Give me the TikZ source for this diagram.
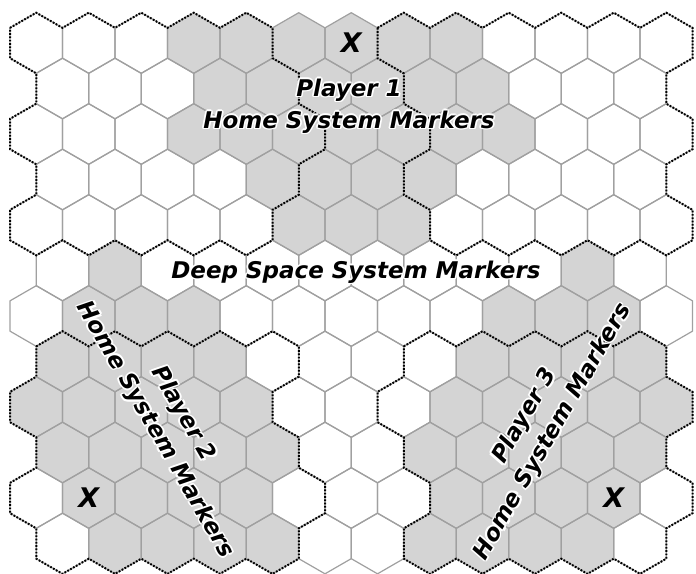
\documentclass[tikz,border=0pt]{standalone}
\usepackage{fontspec}
\setmainfont{DejaVu Sans}
\definecolor{hexgray}{RGB}{212,212,212}
\definecolor{edgegray}{RGB}{160,160,160}
\tikzset{
  hexedge/.style={draw=edgegray,line width=1.2pt,line join=round},
  hexfill/.style={fill=hexgray},
  dotb/.style={draw=black,line width=2pt,dash pattern=on 1.7pt off 1.6pt},
  lbl/.style={font=\fontsize{23}{32}\selectfont\bfseries\itshape,align=center,inner sep=0pt},
  xlbl/.style={font=\fontsize{27}{27}\selectfont\bfseries\itshape,inner sep=0pt}
}
\newcommand\halotext[4]{% name, position, options, text
  \foreach \dx/\dy [count=\n] in {-1.7/0,1.7/0,0/-1.7,0/1.7,-1.2/-1.2,1.2/-1.2,-1.2/1.2,1.2/1.2}{
    \node[lbl,#3,text=white] (#1h\n) at ([shift={(\dx,\dy)}]#2) {#4};
  }
  \node[lbl,#3] (#1) at (#2) {#4};
}
\begin{document}
\begin{tikzpicture}[x=1pt,y=-1pt]
\useasboundingbox (0,0) rectangle (696,573);
\fill[white] (0,0) rectangle (696,573);
\clip (0,0) rectangle (696,573);
% vertex lattice
\foreach \i in {0,...,26}{
  \foreach \k in {0,...,25}{
    \pgfmathsetmacro\xx{10+26.25*\i}
    \pgfmathsetmacro\yy{12.7+45.5*floor(\k/2)+15.15*mod(\k,2)}
    \coordinate (v\i-\k) at (\xx,\yy);
  }
}
% gray hexes
\foreach \r/\a/\b in {1/4/9,2/4/9,3/4/10,4/5/8,5/6/8,6/2/2,6/11/11,7/2/4,7/10/12,8/1/4,8/9/12,9/1/5,9/9/13,10/1/5,10/8/12,11/2/5,11/9/12,12/2/5,12/8/11}{
  \pgfmathtruncatemacro\isodd{mod(\r,2)}
  \pgfmathsetmacro\xo{\isodd==1 ? 36.25 : 62.5}
  \pgfmathsetmacro\cy{43+45.5*(\r-1)}
  \foreach \c in {\a,...,\b}{
    \pgfmathsetmacro\cx{\xo+52.5*(\c-1)}
    \fill[hexfill] (\cx,\cy) +(0,-30.31) -- +(26.25,-15.155) -- +(26.25,15.155) -- +(0,30.31) -- +(-26.25,15.155) -- +(-26.25,-15.155) -- cycle;
  }
}
% all hex outlines
\foreach \r in {1,...,12}{
  \pgfmathtruncatemacro\isodd{mod(\r,2)}
  \pgfmathtruncatemacro\nc{\isodd==1 ? 13 : 12}
  \pgfmathsetmacro\xo{\isodd==1 ? 36.25 : 62.5}
  \pgfmathsetmacro\cy{43+45.5*(\r-1)}
  \foreach \c in {1,...,\nc}{
    \pgfmathsetmacro\cx{\xo+52.5*(\c-1)}
    \draw[hexedge] (\cx,\cy) +(0,-30.31) -- +(26.25,-15.155) -- +(26.25,15.155) -- +(0,30.31) -- +(-26.25,15.155) -- +(-26.25,-15.155) -- cycle;
  }
}
% dotted outlines
\draw[dotb] (v0-1) \foreach \p in {1-0,2-1,3-0,4-1,5-0,6-1,7-0,8-1,9-0,10-1,10-2,11-3,11-4,12-5,12-6,11-7,11-8,10-9,10-10,9-11,8-10,7-11,6-10,5-11,4-10,3-11,2-10,1-11,0-10,0-9,1-8,1-7,0-6,0-5,1-4,1-3,0-2}{ -- (v\p)} -- cycle;
\draw[dotb] (v14-1) \foreach \p in {15-0,16-1,17-0,18-1,19-0,20-1,21-0,22-1,23-0,24-1,25-0,26-1,26-2,25-3,25-4,26-5,26-6,25-7,25-8,26-9,26-10,25-11,24-10,23-11,22-10,21-11,20-10,19-11,18-10,17-11,16-10,16-9,15-8,15-7,16-6,16-5,15-4,15-3,14-2}{ -- (v\p)} -- cycle;
\draw[dotb] (v1-15) \foreach \p in {2-14,3-15,4-14,5-15,6-14,7-15,8-14,9-15,10-14,11-15,11-16,10-17,10-18,11-19,11-20,12-21,12-22,11-23,11-24,10-25,9-24,8-25,7-24,6-25,5-24,4-25,3-24,2-25,1-24,1-23,0-22,0-21,1-20,1-19,0-18,0-17,1-16}{ -- (v\p)} -- cycle;
\draw[dotb] (v15-15) \foreach \p in {16-14,17-15,18-14,19-15,20-14,21-15,22-14,23-15,24-14,25-15,25-16,26-17,26-18,25-19,25-20,26-21,26-22,25-23,25-24,24-25,23-24,22-25,21-24,20-25,19-24,18-25,17-24,16-25,15-24,15-23,16-22,16-21,15-20,15-19,14-18,14-17,15-16}{ -- (v\p)} -- cycle;
% labels
\node[xlbl] (x1) at (351.25,43) {X};
\node[xlbl] (x2) at (88.75,498) {X};
\node[xlbl] (x3) at (613.75,498) {X};
\halotext{p1}{349,106}{}{Player 1\\Home System Markers}
\halotext{ds}{356,272}{}{Deep Space System Markers}
\halotext{p2}{169,422}{rotate=-60}{Player 2\\Home System Markers}
\halotext{p3}{539,424}{rotate=60}{Player 3\\Home System Markers}
\end{tikzpicture}
\end{document}
